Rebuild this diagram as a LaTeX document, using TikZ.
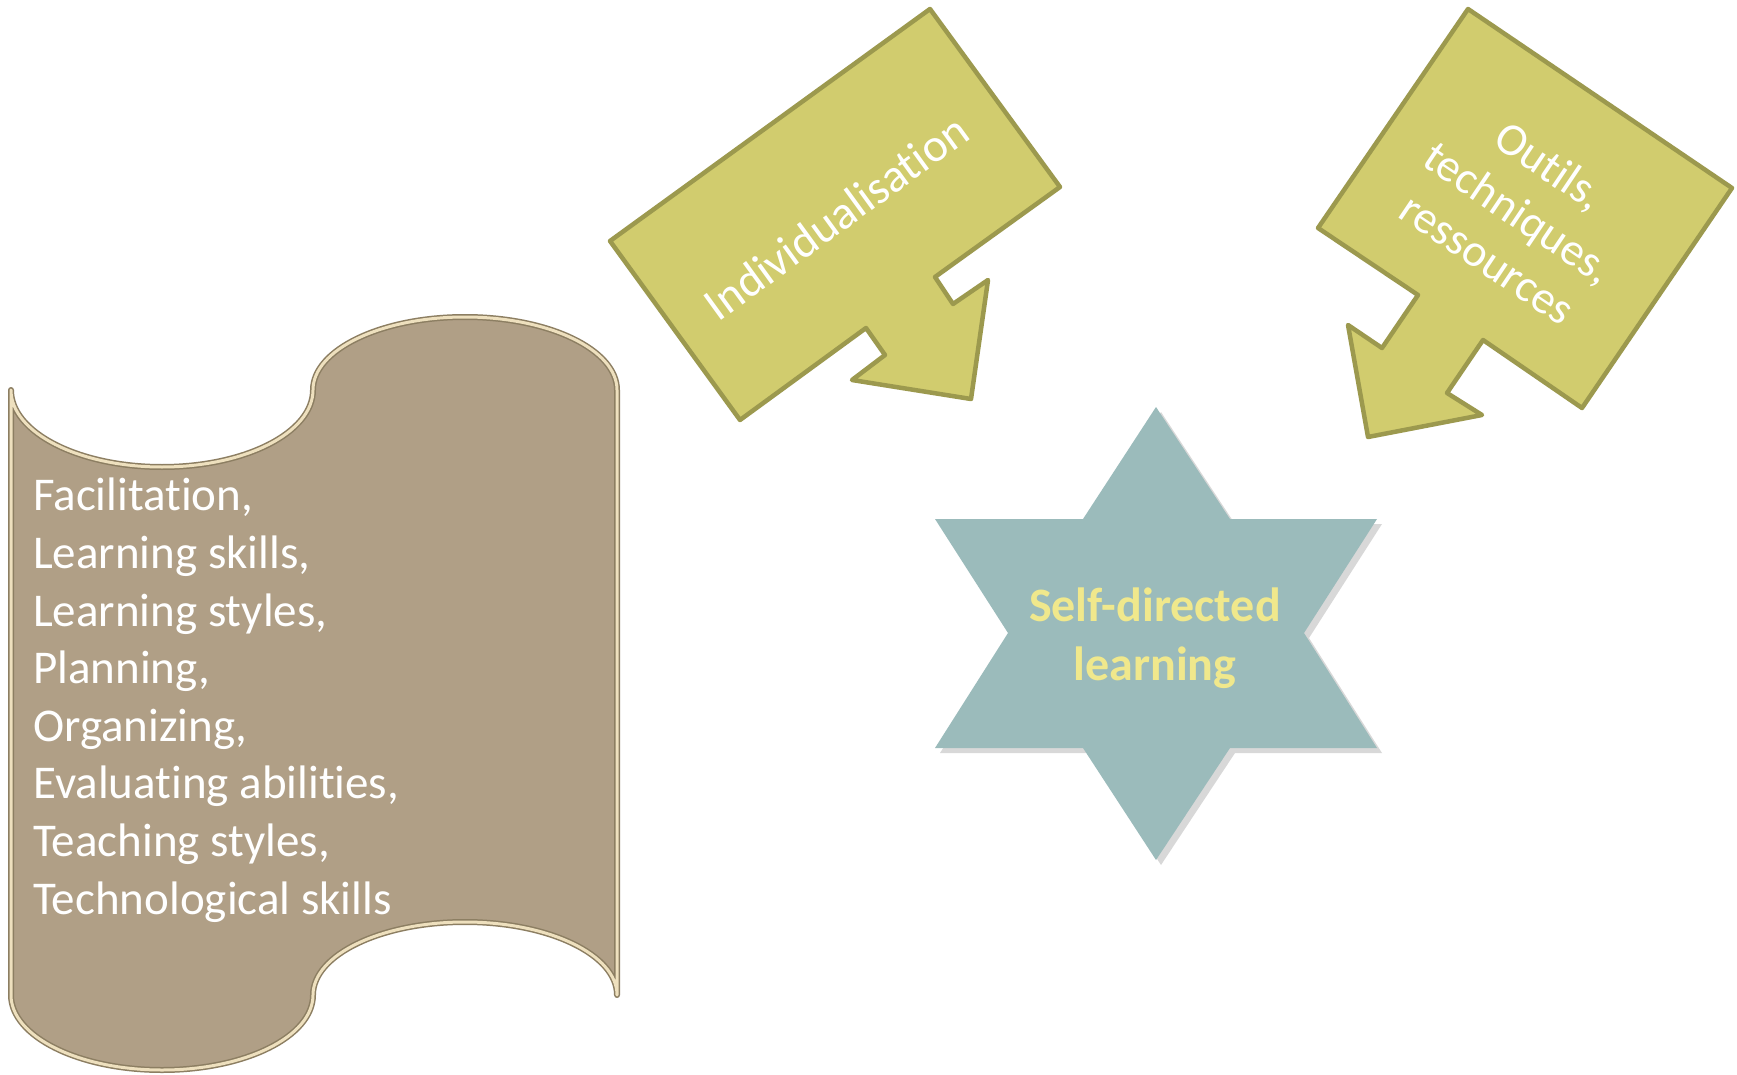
\documentclass[tikz,border=0pt]{standalone}
\usepackage{fontspec}
\setmainfont{Carlito}[Ligatures={NoCommon,NoContextual}]
\usetikzlibrary{shadows}
\definecolor{arrfill}{RGB}{209,204,110}
\definecolor{arrline}{RGB}{156,153,78}
\definecolor{starfill}{RGB}{155,187,187}
\definecolor{scrollfill}{RGB}{176,159,134}
\definecolor{scrollrim}{RGB}{238,224,190}
\definecolor{scrolledge}{RGB}{140,126,98}
\definecolor{sdlyellow}{RGB}{240,232,140}
\pgfdeclareradialshading{vign}{\pgfpoint{0bp}{0bp}}{color(0bp)=(white); color(28bp)=(white); color(50bp)=(black!14)}
\newcommand\myscrollpath{(11,390) arc[start angle=180, end angle=360, x radius=151pt, y radius=77pt]
  arc[start angle=180, end angle=0, x radius=152pt, y radius=73pt]
  -- (617,995)
  arc[start angle=0, end angle=180, x radius=152pt, y radius=73pt]
  arc[start angle=0, end angle=-180, x radius=151pt, y radius=75pt]
  -- cycle}
\tikzset{
  arrowshape/.style={fill=arrfill, draw=arrline, line width=4.5pt, line join=round},
  arrtext/.style={text=white, inner sep=0pt, align=center},
  scrolltext/.style={text=white, inner sep=0pt, font=\fontsize{47}{57.6}\selectfont, align=left},
  startext/.style={text=sdlyellow, inner sep=0pt, font=\bfseries\fontsize{48}{59}\selectfont, align=center},
}
\begin{document}
\begin{tikzpicture}[x=1pt,y=-1pt]
\useasboundingbox (0,0) rectangle (1737,1075);
\begin{scope}
\clip (0,0) rectangle (1737,1075);
\shade[shading=vign] (-500,-450) rectangle (1900,1350);
\end{scope}
% scroll
\fill[scrollfill] \myscrollpath;
\draw[scrolledge, line width=6pt, line join=round] \myscrollpath;
\draw[scrollrim, line width=3pt, line join=round] \myscrollpath;
\node[scrolltext, anchor=north west] (skills) at (33,478)
  {Facilitation,\\Learning skills,\\Learning styles,\\Planning,\\Organizing,\\Evaluating abilities,\\Teaching styles,\\Technological skills};
% arrow 1
\path[arrowshape] (930,9) -- (1060,187) -- (935,277) -- (953,304) -- (988,280) -- (971,399)
  -- (852,380) -- (885,355) -- (866,328) -- (740,420) -- (610,241) -- cycle;
\node[arrtext, rotate=36, font=\fontsize{47}{57}\selectfont] (indiv) at (836,217) {Individualisation};
% arrow 2
\path[arrowshape] (1468,9) -- (1732,188) -- (1582,408) -- (1483,340) -- (1447,393) -- (1482,415)
  -- (1368,437) -- (1348,325) -- (1382,348) -- (1418,295) -- (1318,228) -- cycle;
\node[arrtext, rotate=-34, font=\fontsize{46}{56}\selectfont] (outils) at (1519,212) {Outils,\\techniques,\\ressources};
% star
\path[fill=starfill, drop shadow={shadow xshift=5pt, shadow yshift=-5pt, opacity=0.3}]
  (1156,407) -- (1230,519) -- (1377,519) -- (1304,633) -- (1377,748) -- (1230,748)
  -- (1156,860) -- (1083,748) -- (935,748) -- (1008,633) -- (935,519) -- (1083,519) -- cycle;
\node[startext] (sdl) at (1155,638) {Self-directed\\learning};
\end{tikzpicture}
\end{document}
